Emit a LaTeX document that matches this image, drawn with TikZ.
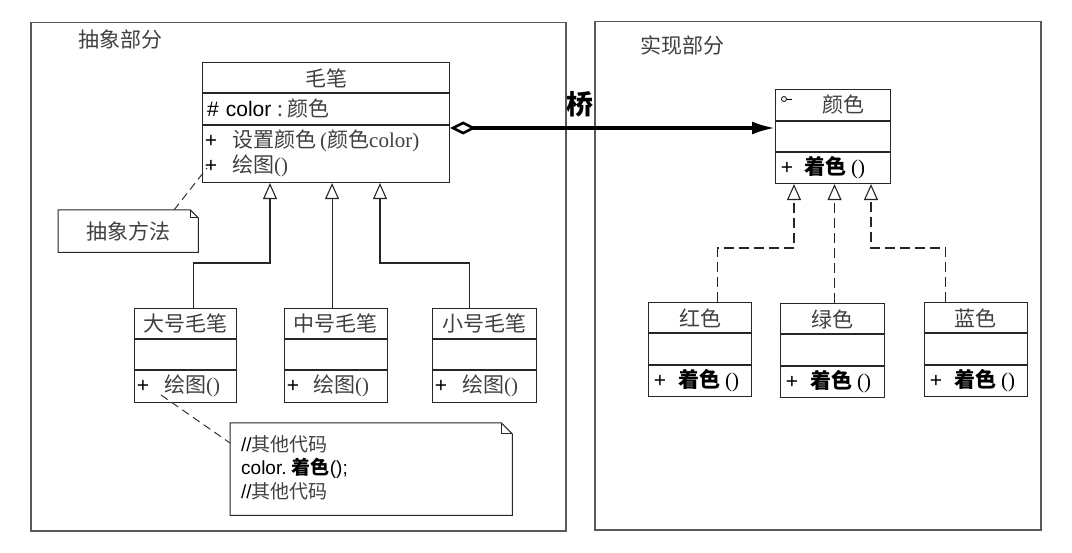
\documentclass[tikz,border=0pt]{standalone}
\usepackage{fontspec}
\setmainfont{Liberation Serif}
\newfontfamily\cjk{Noto Sans CJK SC}
\newfontfamily\arial{Liberation Sans}
\usetikzlibrary{arrows.meta}
\newcommand\umlbox[7]{%
  \node[box, minimum width=#4pt, minimum height=#5pt] (#1) at (#2,#3) {};
  \draw[div] ([yshift=-#6pt]#1.north west) -- ([yshift=-#6pt]#1.north east);
  \draw[div] ([yshift=-#7pt]#1.north west) -- ([yshift=-#7pt]#1.north east);
}
\begin{document}
\begin{tikzpicture}[x=1pt,y=-1pt,
  box/.style={draw=black!85,line width=1.1pt,inner sep=0pt,anchor=north west,fill=white},
  div/.style={draw=black!85,line width=1.1pt},
  frame/.style={draw=black!65,line width=1.5pt,inner sep=0pt,anchor=north west},
  txt/.style={inner sep=0pt,font=\fontsize{21}{24}\selectfont\cjk,text=black!75},
  small/.style={inner sep=0pt,font=\fontsize{19}{22}\selectfont\cjk,text=black!75,anchor=west},
  lat/.style={inner sep=0pt,font=\fontsize{21}{24}\selectfont\arial,text=black},
  bop/.style={inner sep=0pt,anchor=west,text=black,font=\fontsize{21}{24}\selectfont\cjk\bfseries},
  inh/.style={draw=black!85,line width=1.1pt,-{Triangle[open,length=16pt,width=14pt,fill=white]}},
  real/.style={inh,dash pattern=on 10pt off 5pt},
  notel/.style={draw=black!80,line width=1pt,dash pattern=on 8pt off 5pt},
  notebox/.style={inner sep=0pt,anchor=north west},
  noteline/.style={draw=black!85,line width=1pt,line join=miter},
]
\useasboundingbox[fill=white] (0,0) rectangle (1072,553);

% frames
\node[frame, minimum width=535pt, minimum height=508pt] (absf) at (30,22) {};
\node[frame, minimum width=446pt, minimum height=508pt] (impf) at (594,21) {};
\node[txt] (absl) at (120,40) {抽象部分};
\node[txt] (impl) at (682,45) {实现部分};

% abstraction class
\umlbox{mb}{202}{62}{247}{120}{31}{63}
\node[txt] (mbt) at (326,78) {毛笔};
\node[lat,anchor=west] (mba) at (207,109) {\#\hspace{7pt}color\hspace{6pt}{\cjk\color{black!75}:\hspace{4pt}颜色}};
\node[lat] (mbp1) at (211,141) {+};
\node[txt,anchor=west] (mbo1) at (232,141) {设置颜色\hspace{4pt}{\rmfamily(}颜色{\rmfamily color)}};
\node[lat] (mbp2) at (211,166) {+};
\node[txt,anchor=west] (mbo2) at (232,166) {绘图{\rmfamily()}};

% refined classes
\umlbox{big}{134}{308}{102}{94}{31}{62}
\node[txt] (bigt) at (185,323) {大号毛笔};
\node[lat] (bigp) at (143,386) {+};
\node[txt,anchor=west] (bigo) at (164,386) {绘图{\rmfamily()}};

\umlbox{mid}{284}{308}{103}{94}{31}{62}
\node[txt] (midt) at (335,323) {中号毛笔};
\node[lat] (midp) at (293,386) {+};
\node[txt,anchor=west] (mido) at (313,386) {绘图{\rmfamily()}};

\umlbox{sml}{432}{308}{104}{94}{31}{62}
\node[txt] (smlt) at (484,323) {小号毛笔};
\node[lat] (smlp) at (441,386) {+};
\node[txt,anchor=west] (smlo) at (462,386) {绘图{\rmfamily()}};

% generalizations
\coordinate (j1) at (270,263);
\coordinate (j3) at (380,263);
\coordinate (bg) at ([xshift=8pt]big.north);
\coordinate (md) at ([xshift=-4pt]mid.north);
\coordinate (sm) at ([xshift=-15pt]sml.north);
\draw[inh] (bg) |- (j1) -- (j1 |- mb.south);
\draw[inh] (md) -- (md |- mb.south);
\draw[inh] (sm) |- (j3) -- (j3 |- mb.south);

% notes
\node[notebox, minimum width=140pt, minimum height=42pt] (nabs) at (58,210) {};
\draw[noteline,fill=white] (nabs.north west) -- ([xshift=-8pt]nabs.north east) -- ([yshift=-8pt]nabs.north east) -- (nabs.south east) -- (nabs.south west) -- cycle;
\draw[noteline] ([xshift=-8pt]nabs.north east) -- ([xshift=-8pt,yshift=-8pt]nabs.north east) -- ([yshift=-8pt]nabs.north east);
\node[txt] (nabst) at (128,231) {抽象方法};
\coordinate (d1) at (207,168);
\draw[notel] ([xshift=116pt]nabs.north west) -- (d1);

\node[notebox, minimum width=282pt, minimum height=92pt] (ncode) at (230,423) {};
\draw[noteline,fill=white] (ncode.north west) -- ([xshift=-11pt]ncode.north east) -- ([yshift=-11pt]ncode.north east) -- (ncode.south east) -- (ncode.south west) -- cycle;
\draw[noteline] ([xshift=-11pt]ncode.north east) -- ([xshift=-11pt,yshift=-11pt]ncode.north east) -- ([yshift=-11pt]ncode.north east);
\node[small] (c1) at (241,444) {{\arial\color{black}//}其他代码};
\node[small] (c2) at (241,468) {{\arial\color{black}color.\ }{\bfseries\color{black}着色}{\arial\color{black}();}};
\node[small] (c3) at (241,491) {{\arial\color{black}//}其他代码};
\coordinate (d2) at (161,395);
\draw[notel] (d2) -- ([yshift=-20pt]ncode.north west);

% implementor
\umlbox{col}{775}{89}{115}{94}{32}{63}
\draw[line width=0.8pt] (784,99) circle (2.5pt);
\draw[line width=0.8pt] (786.5,99) -- (792,99);
\node[txt] (colt) at (843,105) {颜色};
\node[lat] (colp) at (787,168) {+};
\node[bop] (colo) at (804,168) {着色\hspace{5pt}{\mdseries\rmfamily()}};

\umlbox{red}{648}{302}{103}{94}{31}{63}
\node[txt] (redt) at (700,318) {红色};
\node[lat] (redp) at (660,381) {+};
\node[bop] (redo) at (678,381) {着色\hspace{5pt}{\mdseries\rmfamily()}};

\umlbox{grn}{780}{303}{104}{94}{31}{63}
\node[txt] (grnt) at (832,319) {绿色};
\node[lat] (grnp) at (792,382) {+};
\node[bop] (grno) at (810,382) {着色\hspace{5pt}{\mdseries\rmfamily()}};

\umlbox{blu}{924}{302}{103}{94}{31}{63}
\node[txt] (blut) at (975,318) {蓝色};
\node[lat] (blup) at (936,381) {+};
\node[bop] (bluo) at (954,381) {着色\hspace{5pt}{\mdseries\rmfamily()}};

% realizations
\coordinate (r1) at (794,248);
\coordinate (r3) at (871,248);
\coordinate (rd) at ([xshift=17.5pt]red.north);
\coordinate (gn) at ([xshift=2pt]grn.north);
\coordinate (bl) at ([xshift=-30.5pt]blu.north);
\draw[real] (rd) |- (r1) -- (r1 |- col.south);
\draw[real] (gn) -- (gn |- col.south);
\draw[real] (bl) |- (r3) -- (r3 |- col.south);

% bridge
\coordinate (bry) at (0,128);
\draw[line width=3.2pt,{Diamond[open,length=26pt,width=13pt,line width=2.6pt]}-{Latex[length=23pt,width=13pt]}] (mb.east |- bry) -- (col.west |- bry);
\node[txt,text=black,font=\fontsize{27}{30}\selectfont\cjk\bfseries] (bridge) at (580,104) {桥};
\end{tikzpicture}
\end{document}
